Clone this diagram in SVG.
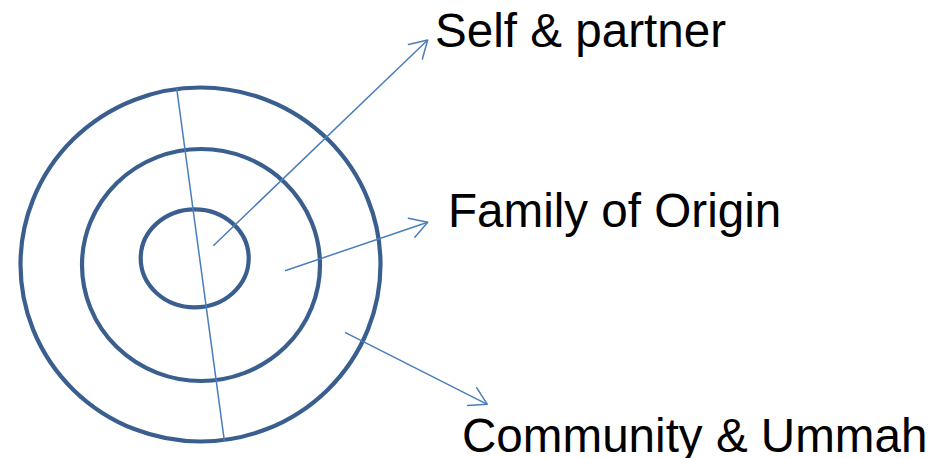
<svg xmlns="http://www.w3.org/2000/svg" width="940" height="458" viewBox="0 0 940 458">
  <style>
    .ring { fill: none; stroke: #3A5F8F; stroke-width: 4.2; }
    .link { fill: none; stroke: #4A7EBB; stroke-width: 1.5; }
    .label { font-family: "Liberation Sans", Arial, sans-serif; font-size: 47.6px; fill: #000000; }
  </style>
  <defs>
    <marker id="open-arrow" markerUnits="userSpaceOnUse" markerWidth="40" markerHeight="40" viewBox="-20 -20 40 40" refX="0" refY="0" orient="auto">
      <path d="M -17,-10 L 0,0 L -17,10" fill="none" stroke="#4A7EBB" stroke-width="1.5" stroke-linecap="round" stroke-linejoin="round"/>
    </marker>
  </defs>

  <rect width="940" height="458" fill="#FFFFFF"/>

  <!-- concentric rings -->
  <g id="ring-community">
    <ellipse class="ring" cx="200.5" cy="264.5" rx="180" ry="177"/>
  </g>
  <g id="ring-family">
    <ellipse class="ring" cx="201" cy="265" rx="119" ry="116"/>
  </g>
  <g id="ring-self">
    <ellipse class="ring" cx="194.7" cy="258.3" rx="54" ry="49"/>
  </g>

  <!-- connectors -->
  <g id="connectors">
    <line class="link" x1="176.7" y1="88.3" x2="224.3" y2="440.7"/>
    <line class="link" x1="213.3" y1="245.7" x2="427.7" y2="40" marker-end="url(#open-arrow)"/>
    <line class="link" x1="285" y1="270.7" x2="427.7" y2="222.3" marker-end="url(#open-arrow)"/>
    <line class="link" x1="345" y1="332.3" x2="487.3" y2="404.3" marker-end="url(#open-arrow)"/>
  </g>

  <!-- labels -->
  <g id="label-self">
    <text class="label" x="435" y="47">Self &amp; partner</text>
  </g>
  <g id="label-family">
    <text class="label" x="448" y="227">Family of Origin</text>
  </g>
  <g id="label-community">
    <text class="label" x="462" y="452">Community &amp; Ummah</text>
  </g>
</svg>
